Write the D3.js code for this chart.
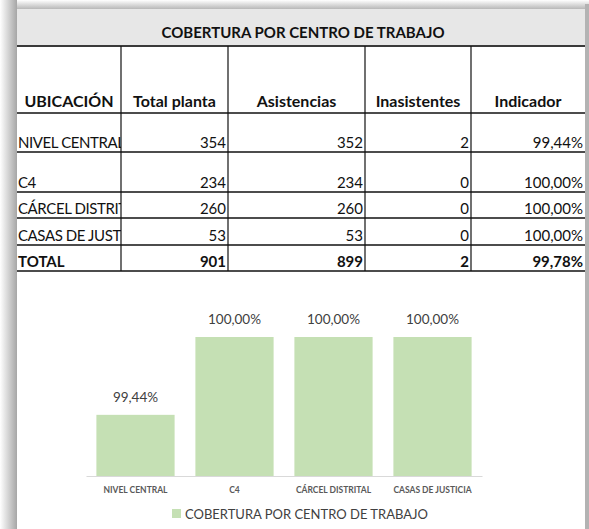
<!DOCTYPE html>
<html>
<head>
<meta charset="utf-8">
<script src="https://cdn.jsdelivr.net/npm/d3@7"></script>
<style>
  body { margin: 0; background: #fff; }
  svg { display: block; font-family: Lato, "Liberation Sans", sans-serif; }
</style>
</head>
<body>
<div id="chart"></div>
<script>
// datos de la tabla
const ubicaciones = ["NIVEL CENTRAL", "C4", "CÁRCEL DISTRITAL", "CASAS DE JUSTICIA"];
const totalPlanta = [354, 234, 260, 53];
const asistencias = [352, 234, 260, 53];
const inasistentes = [2, 0, 0, 0];
const indicador = [0.9944, 1.0, 1.0, 1.0];
const totales = ["TOTAL", 901, 899, 2, 0.9978];
const encabezados = ["UBICACIÓN", "Total planta", "Asistencias", "Inasistentes", "Indicador"];
const titulo = "COBERTURA POR CENTRO DE TRABAJO";
const yDominio = [0.99, 1.0];

const W = 589, H = 529;
const fmtPct = v => (v * 100).toFixed(2).replace(".", ",") + "%";

const svg = d3.select("#chart").append("svg")
  .attr("width", W).attr("height", H);

// sombra del recuadro
const defs = svg.append("defs");
const gl = defs.append("linearGradient").attr("id", "sombraIzq");
gl.append("stop").attr("offset", "0").attr("stop-color", "#ffffff");
gl.append("stop").attr("offset", "1").attr("stop-color", "#a6a6a6");
const gt = defs.append("linearGradient").attr("id", "sombraSup")
  .attr("x1", 0).attr("y1", 0).attr("x2", 0).attr("y2", 1);
gt.append("stop").attr("offset", "0").attr("stop-color", "#ffffff");
gt.append("stop").attr("offset", "1").attr("stop-color", "#b8b8b8");

svg.append("rect").attr("x", 0).attr("y", 0).attr("width", W).attr("height", 9).attr("fill", "url(#sombraSup)");
svg.append("rect").attr("x", 0).attr("y", 0).attr("width", 17).attr("height", H).attr("fill", "url(#sombraIzq)");
svg.append("rect").attr("x", 585).attr("y", 4).attr("width", 4).attr("height", H).attr("fill", "#b3b3b3");
svg.append("rect").attr("x", 17).attr("y", 9).attr("width", 568).attr("height", H - 9).attr("fill", "#fff");

// ---- tabla ----
const colX = [17, 121, 228, 365, 471, 585];
const rowY = [113, 152, 192, 218, 245, 271];
const tabla = svg.append("g");

tabla.append("rect").attr("x", 17).attr("y", 9).attr("width", 568).attr("height", 37).attr("fill", "#e7e7e7");
tabla.append("text").attr("x", 303).attr("y", 38)
  .attr("text-anchor", "middle").attr("font-weight", "bold").attr("font-size", 15)
  .attr("fill", "#111").text(titulo);
tabla.append("line").attr("x1", 17).attr("x2", 585).attr("y1", 46).attr("y2", 46)
  .attr("stroke", "#3a3a3a").attr("stroke-width", 2);

// bordes
rowY.forEach(y => {
  tabla.append("line").attr("x1", 17).attr("x2", 585).attr("y1", y).attr("y2", y)
    .attr("stroke", "#111").attr("stroke-width", 1.5);
});
colX.slice(1, 5).forEach(x => {
  tabla.append("line").attr("x1", x).attr("x2", x).attr("y1", 46).attr("y2", 271)
    .attr("stroke", "#111").attr("stroke-width", 1.2);
});

// encabezados
encabezados.forEach((h, i) => {
  tabla.append("text").attr("x", (colX[i] + colX[i + 1]) / 2).attr("y", 107)
    .attr("text-anchor", "middle").attr("font-weight", "bold").attr("font-size", 16)
    .attr("fill", "#111").text(h);
});

// clip de la primera columna
defs.append("clipPath").attr("id", "clipCol").append("rect")
  .attr("x", 17).attr("y", 100).attr("width", 104).attr("height", 180);

const filas = ubicaciones.map((u, i) => [u, totalPlanta[i], asistencias[i], inasistentes[i], indicador[i]]);
filas.push(totales);

filas.forEach((f, r) => {
  const base = rowY[r + 1] - 4;
  const negrita = r === filas.length - 1;
  f.forEach((v, c) => {
    const t = tabla.append("text").attr("y", base).attr("font-size", 15)
      .attr("fill", "#111").attr("font-weight", negrita ? "bold" : "normal");
    if (c === 0) {
      t.attr("x", 18).attr("clip-path", "url(#clipCol)")
        .attr("letter-spacing", negrita ? 0 : -0.4).text(v);
    } else {
      t.attr("x", colX[c + 1] - 2).attr("text-anchor", "end")
        .text(c === 4 ? fmtPct(v) : v);
    }
  });
});

// ---- grafico de barras ----
const x = d3.scaleBand().domain(ubicaciones).range([86, 482]).paddingInner(0.21).paddingOuter(0.105);
const y = d3.scaleLinear().domain(yDominio).range([476, 337]);

const grafico = svg.append("g");
grafico.selectAll("rect.barra").data(ubicaciones).join("rect")
  .attr("class", "barra")
  .attr("x", d => x(d)).attr("width", x.bandwidth())
  .attr("y", (d, i) => y(indicador[i]))
  .attr("height", (d, i) => y(yDominio[0]) - y(indicador[i]))
  .attr("fill", "#c5e0b4");

grafico.selectAll("text.valor").data(ubicaciones).join("text")
  .attr("class", "valor")
  .attr("x", d => x(d) + x.bandwidth() / 2)
  .attr("y", (d, i) => y(indicador[i]) - 13)
  .attr("text-anchor", "middle").attr("font-size", 13.5).attr("fill", "#404040")
  .text((d, i) => fmtPct(indicador[i]));

const eje = grafico.append("g").attr("transform", "translate(0,476)")
  .call(d3.axisBottom(x).tickSize(0).tickPadding(11));
eje.select(".domain").attr("stroke", "#d9d9d9").attr("stroke-width", 1);
eje.selectAll("text").attr("font-family", "Lato, sans-serif").attr("font-size", 8.5)
  .attr("font-weight", "bold").attr("fill", "#595959");

// leyenda
const ley = grafico.append("g");
ley.append("rect").attr("x", 172).attr("y", 509).attr("width", 9).attr("height", 9).attr("fill", "#c5e0b4");
ley.append("text").attr("x", 185).attr("y", 519).attr("font-size", 13).attr("fill", "#404040").text(titulo);
</script>
</body>
</html>
